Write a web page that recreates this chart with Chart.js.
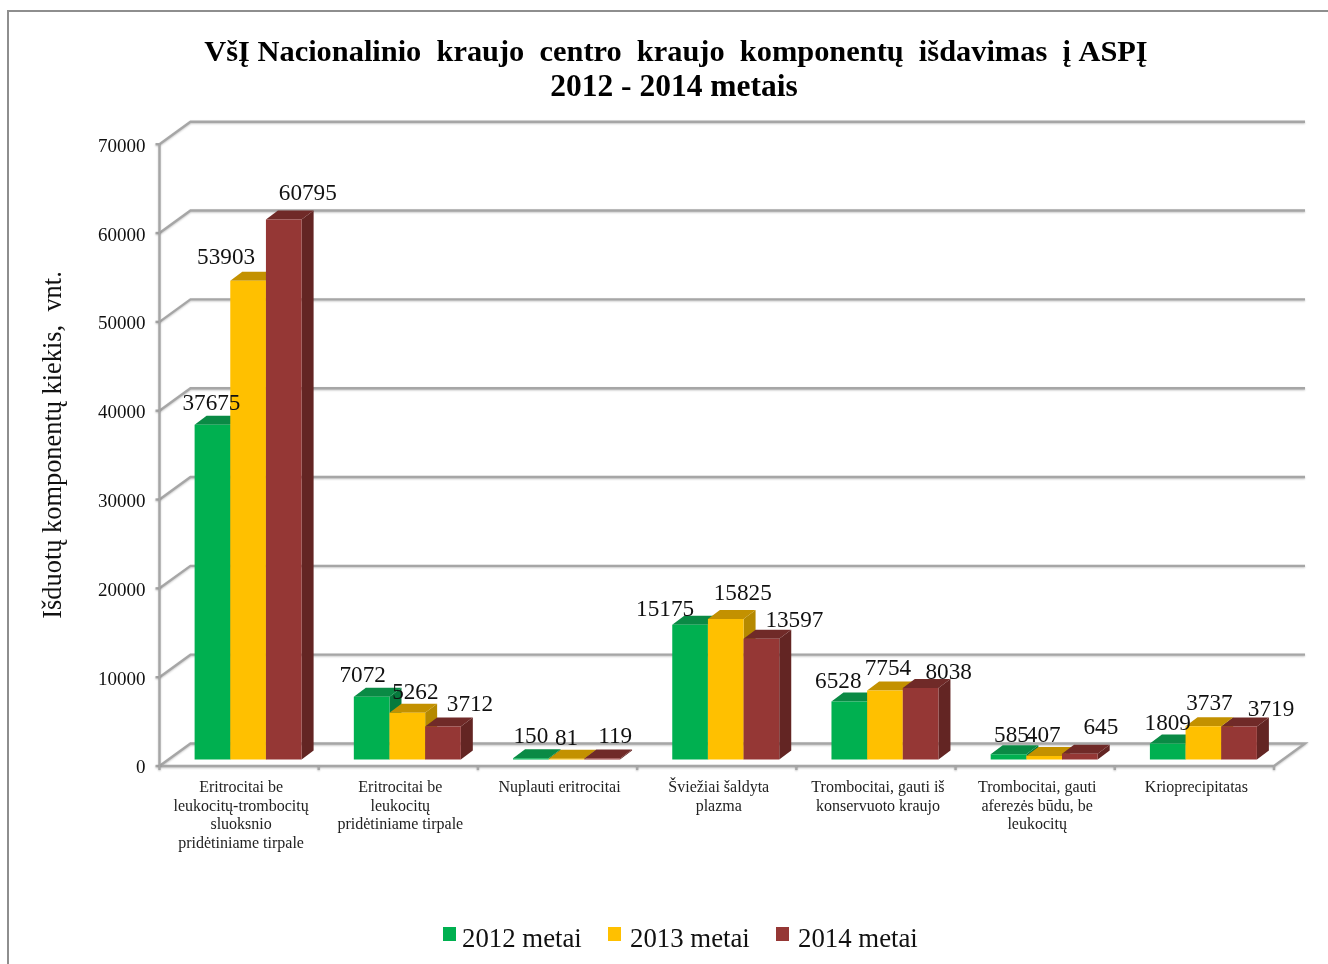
<!DOCTYPE html>
<html>
<head>
<meta charset="utf-8">
<style>
  html, body { margin: 0; padding: 0; background: #fff; }
  canvas { display: block; }
</style>
<script src="https://cdn.jsdelivr.net/npm/chart.js@4"></script>
</head>
<body>
<canvas id="chart" width="1328" height="964"></canvas>
<script>
const categories = [
  ["Eritrocitai be", "leukocitų-trombocitų", "sluoksnio", "pridėtiniame tirpale"],
  ["Eritrocitai be", "leukocitų", "pridėtiniame tirpale"],
  ["Nuplauti eritrocitai"],
  ["Šviežiai šaldyta", "plazma"],
  ["Trombocitai, gauti iš", "konservuoto kraujo"],
  ["Trombocitai, gauti", "aferezės būdu, be", "leukocitų"],
  ["Krioprecipitatas"],
];
const values2012 = [37675, 7072, 150, 15175, 6528, 585, 1809];
const values2013 = [53903, 5262, 81, 15825, 7754, 407, 3737];
const values2014 = [60795, 3712, 119, 13597, 8038, 645, 3719];

// hand placed data labels, [dx, dy] from top centre of each bar
const nudge2012 = [[-1, -22], [-9, -22], [0, -22], [-25, -16], [-11, -21], [3, -19], [0, -21]];
const nudge2013 = [[-22, -24], [8, -21], [0, -21], [17, -26], [3, -23], [-1, -21], [6, -23]];
const nudge2014 = [[24, -27], [27, -23], [13, -23], [33, -19], [28, -16], [21, -27], [32, -18]];
const nudges = [nudge2012, nudge2013, nudge2014];

const titleLines = [
  "VšĮ Nacionalinio  kraujo  centro  kraujo  komponentų  išdavimas  į ASPĮ",
  "2012 - 2014 metais",
];
const yTitle = "Išduotų komponentų kiekis,  vnt.";

const fronts = ["#00B050", "#FFC000", "#953735"];
const tops = ["#0A8A45", "#C39100", "#702A28"];
const sides = ["#067A3D", "#B58900", "#632523"];

const SERIF = '"Liberation Serif", serif';
const GRID = "#A6A6A6";

// 3d look: walls and floor are shifted copies of the value scale
const wallDx = 31, wallDy = -16;
const frontDx = -9, frontDy = 6.5;
const barDx = 12, barDy = -9;

const scene3d = {
  id: "scene3d",
  beforeDraw(chart) {
    const { ctx } = chart;
    ctx.save();
    ctx.strokeStyle = "#8E8E8E";
    ctx.lineWidth = 2;
    ctx.beginPath();
    ctx.moveTo(8, 964);
    ctx.lineTo(8, 11);
    ctx.lineTo(1328, 11);
    ctx.stroke();
    ctx.restore();
  },
  beforeDatasetsDraw(chart) {
    const { ctx, scales: { x, y } } = chart;
    const left = x.left + frontDx;
    const right = x.right + frontDx;
    ctx.save();
    ctx.strokeStyle = GRID;
    ctx.lineWidth = 2.4;
    ctx.shadowColor = "rgba(0,0,0,0.22)";
    ctx.shadowBlur = 2;
    ctx.shadowOffsetY = 1;
    y.ticks.forEach((t) => {
      const py = y.getPixelForValue(t.value);
      ctx.beginPath();
      ctx.moveTo(left, py + frontDy);
      ctx.lineTo(left + wallDx, py + wallDy);
      ctx.lineTo(right + wallDx, py + wallDy);
      if (t.value === 0) {
        ctx.lineTo(right, py + frontDy);
        ctx.lineTo(left, py + frontDy);
      }
      ctx.stroke();
      // small tick on the front axis
      ctx.beginPath();
      ctx.moveTo(left - 4, py + frontDy);
      ctx.lineTo(left, py + frontDy);
      ctx.stroke();
    });
    ctx.beginPath();
    ctx.moveTo(left, y.top + frontDy);
    ctx.lineTo(left, y.bottom + frontDy);
    ctx.stroke();
    const step = x.width / categories.length;
    for (let i = 0; i <= categories.length; i++) {
      ctx.beginPath();
      ctx.moveTo(left + i * step, y.bottom + frontDy);
      ctx.lineTo(left + i * step, y.bottom + frontDy + 4);
      ctx.stroke();
    }
    ctx.restore();
  },
  // bars must paint left to right so a bar's side sits behind its neighbour
  beforeDatasetDraw() {
    return false;
  },
  afterDatasetsDraw(chart) {
    const { ctx } = chart;
    chart.data.datasets.forEach((ds, di) => {
      chart.getDatasetMeta(di).data.forEach((bar) => {
        const l = bar.x - bar.width / 2;
        const r = bar.x + bar.width / 2;
        ctx.fillStyle = sides[di];
        ctx.beginPath();
        ctx.moveTo(r, bar.y);
        ctx.lineTo(r + barDx, bar.y + barDy);
        ctx.lineTo(r + barDx, bar.base + barDy);
        ctx.lineTo(r, bar.base);
        ctx.closePath();
        ctx.fill();
        ctx.fillStyle = tops[di];
        ctx.beginPath();
        ctx.moveTo(l, bar.y);
        ctx.lineTo(l + barDx, bar.y + barDy);
        ctx.lineTo(r + barDx, bar.y + barDy);
        ctx.lineTo(r, bar.y);
        ctx.closePath();
        ctx.fill();
        bar.draw(ctx);
      });
    });

    ctx.save();
    ctx.fillStyle = "#111";
    ctx.textAlign = "center";
    ctx.textBaseline = "middle";
    ctx.font = "23.2px " + SERIF;
    chart.data.datasets.forEach((ds, di) => {
      chart.getDatasetMeta(di).data.forEach((bar, i) => {
        const [dx, dy] = nudges[di][i];
        ctx.fillText(String(ds.data[i]), bar.x + dx, bar.y + dy + 1);
      });
    });
    ctx.restore();
  },
  afterDraw(chart) {
    const { ctx } = chart;
    ctx.save();
    ctx.fillStyle = "#000";
    ctx.textAlign = "center";
    ctx.textBaseline = "middle";
    ctx.font = "bold 30.4px " + SERIF;
    ctx.fillText(titleLines[0], 676, 53);
    ctx.font = "bold 31.5px " + SERIF;
    ctx.fillText(titleLines[1], 674, 88);

    ctx.fillStyle = "#111";
    ctx.save();
    ctx.translate(54, 445);
    ctx.rotate(-Math.PI / 2);
    ctx.font = "26.4px " + SERIF;
    ctx.fillText(yTitle, 0, 0);
    ctx.restore();

    // legend
    ctx.textAlign = "left";
    ctx.font = "26.8px " + SERIF;
    [[443, 462], [608, 630], [776, 798]].forEach(([boxX, textX], i) => {
      ctx.fillStyle = fronts[i];
      ctx.fillRect(boxX, 927, 13, 14);
      ctx.fillStyle = "#111";
      ctx.fillText(chart.data.datasets[i].label, textX, 940);
    });
    ctx.restore();
  },
};

new Chart(document.getElementById("chart"), {
  type: "bar",
  data: {
    labels: categories,
    datasets: [
      { label: "2012 metai", data: values2012, backgroundColor: fronts[0] },
      { label: "2013 metai", data: values2013, backgroundColor: fronts[1] },
      { label: "2014 metai", data: values2014, backgroundColor: fronts[2] },
    ],
  },
  options: {
    responsive: false,
    animation: false,
    layout: { padding: { top: 137.7, left: 0, right: 45, bottom: 104.5 } },
    datasets: { bar: { categoryPercentage: 0.672, barPercentage: 1 } },
    plugins: { legend: { display: false }, title: { display: false }, tooltip: { enabled: false } },
    scales: {
      x: {
        grid: { display: false },
        border: { display: false },
        afterFit(s) { s.height = 100; },
        ticks: {
          autoSkip: false,
          maxRotation: 0,
          minRotation: 0,
          padding: 11,
          labelOffset: -7,
          color: "#222",
          font: { family: SERIF, size: 16, lineHeight: 1.16 },
        },
      },
      y: {
        min: 0,
        max: 70000,
        grid: { display: false },
        border: { display: false },
        afterFit(s) { s.width = 168.5; },
        ticks: {
          stepSize: 10000,
          padding: 15,
          labelOffset: 9,
          color: "#111",
          font: { family: SERIF, size: 19 },
          callback: (v) => String(v),
        },
      },
    },
  },
  plugins: [scene3d],
});
</script>
</body>
</html>
